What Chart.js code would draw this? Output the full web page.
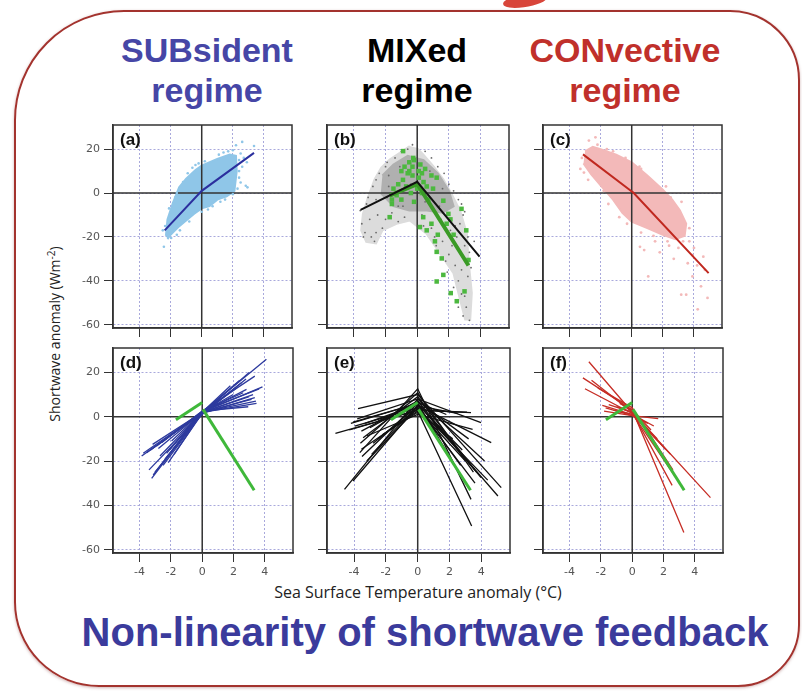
<!DOCTYPE html>
<html>
<head>
<meta charset="utf-8">
<script src="https://cdn.jsdelivr.net/npm/chart.js@4.4.0/dist/chart.umd.min.js"></script>
<style>
body{margin:0;background:#fff;width:802px;height:691px;overflow:hidden;position:relative;font-family:"Liberation Sans",Arial,sans-serif}
.frame{position:absolute;left:14px;top:10px;width:782px;height:673px;border:2px solid #a3332e;border-radius:110px 70px 62px 85px;box-shadow:0 1px 3px rgba(120,40,40,.35)}
.blob{position:absolute;left:503px;top:-5px;width:44px;height:12px;background:#d8453a;border-radius:50% 40% 60% 50%;transform:rotate(-8deg)}
.head{position:absolute;top:30px;width:260px;font-weight:bold;font-size:34px;line-height:40px;text-align:center}
.ytitle{position:absolute;left:54px;top:334px;transform:translate(-50%,-50%) rotate(-90deg);font-family:"Open Sans";font-size:14px;color:#222;white-space:nowrap}
.xtitle{position:absolute;left:418px;top:592px;transform:translate(-50%,-50%);font-family:"Open Sans";font-size:16px;color:#222;white-space:nowrap}
.foot{position:absolute;left:425px;top:610px;transform:translateX(-50%);font-weight:bold;font-size:40px;color:#3b3b9c;white-space:nowrap}
</style>
</head>
<body>
<div class="frame"></div>
<div class="blob"></div>
<div class="head" style="left:77px;color:#4646a6">SUBsident<br>regime</div>
<div class="head" style="left:287px;color:#000">MIXed<br>regime</div>
<div class="head" style="left:495px;color:#c0302b">CONvective<br>regime</div>
<div class="ytitle">Shortwave anomaly (Wm<sup style="font-size:10px">-2</sup>)</div>
<div class="xtitle">Sea Surface Temperature anomaly (°C)</div>
<div class="foot">Non-linearity of shortwave feedback</div>

<script>
// axis ticks
const xTicks = [-4, -2, 0, 2, 4];
const yTicks = [20, 0, -20, -40, -60];
const xMin = -5.7, xMax = 5.8, yMin = -61.5, yMax = 31;

// (a) SUBsident regime: cloud outline, loose points, fit
const aCloud = [[-2.3,-19.5],[-2.2,-12],[-1.85,-4.5],[-1.45,2.6],[-1,6.5],[-0.4,10.5],[0,12.5],[1,15.5],[1.8,17.5],[2.2,17],[2.25,10],[2.1,1],[1.6,-1.5],[1,-3],[0.5,-6],[0,-7],[-0.5,-9.5],[-1,-12.5],[-1.5,-15.5],[-2,-19],[-2.2,-21]];
const aDots = [[2.6,23.3],[2.2,21.8],[3.36,21.4],[2.83,3.3],[2.94,2.6],[2.5,4.8],[-2.43,-24.5],[-1.96,-20.5],[-2.17,-18.5],[2.4,15],[2.6,12],[2.5,18],[-1.6,-19],[-1.2,5],[-0.9,9],[0.2,14.5],[1.4,18.5],[2.0,19.5],[2.7,16],[-2.5,-17],[-2.0,-10],[1.5,-3],[2.4,7],[2.3,2],[-1.7,-2],[-0.4,12.8],[0.7,-6],[2.9,14],[-2.35,-15],[-1.4,-17],[-0.8,-13],[0,-8.5],[1.2,-4],[2.0,-0.5],[2.4,10],[1.1,17.5],[-0.2,13.5],[-0.6,11.5],[-1.6,0],[-2.1,-7],[0.4,-7.5],[1.7,19]];
const aFit = [[-2.38,-17],[0,1],[3.36,18.3]];

// (b) MIXed regime
const bOuter = [[-0.47,21.4],[-1.1,18.3],[-1.74,15.3],[-2.27,11.6],[-2.69,6.3],[-3.11,-2],[-3.43,-9.5],[-3.54,-17],[-3.22,-22.3],[-2.6,-23],[-2.2,-17],[-1.31,-14],[-0.47,-12.5],[0.59,-18.5],[1.44,-27.5],[2.29,-36.5],[2.71,-48.6],[3.03,-57.6],[3.35,-57.6],[3.45,-45.6],[3.24,-30.5],[3.14,-18.5],[2.71,-8],[2.18,-0.5],[1.65,6.3],[1.02,12.3],[0.38,17.6],[-0.04,20.6]];
const bCore = [[-2.2,8],[-1.5,13],[-0.6,17],[0.4,15],[1.3,9],[2.0,1],[2.3,-6],[1.6,-9],[0.6,-8],[-0.5,-8],[-1.5,-6],[-2.3,0]];
const bDots = [[-3.5,-14],[-3.3,-18],[-2.9,-20],[-2.7,-22],[-3.0,-12],[-2.5,-10],[-3.2,-5],[-2.8,3],[-2.4,9],[-1.9,14],[-1.0,19],[-0.3,22],[0.5,19],[1.3,12],[2.0,4],[2.6,-3],[2.9,-10],[3.2,-20],[3.3,-27],[2.6,-40],[2.8,-46],[3.1,-52],[3.3,-58],[2.4,-33],[1.8,-31],[1.2,-24],[0.4,-15],[3.6,-22],[3.4,-34],[2.9,-56],[-3.6,-8],[-2.2,-16],[-1.2,-13],[3.0,-8.5],[2.4,-15],[-2.0,-12],[-1.6,-9],[-0.8,-11],[0.9,-16],[1.6,-22],[2.0,-28],[2.2,-24],[2.5,-20],[2.7,-14],[3.0,-24],[2.3,-43],[2.6,-52],[3.0,-47],[3.2,-38],[-3.4,-20],[-2.6,-18],[-3.1,-2],[-2.6,6],[-2.0,12],[-1.4,16],[-0.6,20],[0.9,16],[1.7,9],[2.3,1],[2.8,-5],[1.1,-20],[1.5,-12],[0.3,-10],[-1.8,3],[-1.2,-6],[2.1,-17],[1.9,-36],[2.8,-35],[-1.8,8],[-1.1,12],[0.8,10],[1.6,2],[-2.6,-3],[-0.9,-6],[0.5,-4],[1.4,-6],[-1.9,-2],[-0.4,4]];
const bGreen = [[-0.8,12],[-0.5,14],[-0.2,15],[0.2,13],[0.5,11],[-0.6,9],[-0.3,8],[0.1,7],[0.4,5],[-0.9,6],[-1.2,4],[-0.7,3],[0,2],[0.3,0],[-0.4,0],[-1.3,-1],[-1.6,-3],[-1.0,-3],[0.6,3],[0.9,8],[1.0,2],[0.7,-3],[-0.2,-4],[-0.5,10],[0.1,10],[-1.0,10],[-0.3,12],[0.3,9],[-1.5,2],[-0.89,19.1],[-0.25,16],[1.23,7],[1.65,-3.5],[1.97,-9.5],[1.86,-14],[2.8,-7.2],[3.1,-17],[2.3,-19],[1.12,-22],[1.23,-26.8],[1.55,-29.8],[1.23,-40.3],[1.65,-37.3],[2.12,-45.6],[2.5,-49.3],[2.99,-44.8],[3.24,-30.5],[0.38,-11],[0.6,-17],[0.17,-15.5],[-1.74,-11],[-1.6,-5],[0.9,-14],[1.3,-19],[2.1,-12]];
const bFit = [[-3.58,-7.7],[0,5.1],[3.94,-29]];
const bGreenFit = [[-1.74,-1.2],[0,4.1],[3.24,-33]];

// (c) CONvective regime
const cCloud = [[-3.0,19],[-2.5,21],[-2,20],[-1,17.5],[0,14],[1,8],[2,1.5],[2.6,-3],[3.1,-8],[3.5,-14],[3.4,-19.5],[2.8,-21],[2,-19],[1,-16],[0,-13],[-0.6,-9],[-1.2,-3],[-2,3.5],[-2.6,8.5],[-3.1,13.5]];
const cDots = [[-2.75,23.9],[-2.33,25.4],[-3.07,9.3],[1.06,-38],[3.18,-46.3],[3.5,-46.3],[4.24,-53],[4.45,-42.5],[4.87,-47.8],[4.6,-29],[3.9,-28.3],[0.53,-24.5],[0.8,-26],[3.7,-22],[4.0,-25],[3.0,-25],[2.4,-24],[1.5,-22],[-3.2,16],[-2.2,22],[-1.2,19],[0.5,12],[4.2,-33],[3.6,-32],[2.7,-30],[4.7,-35],[3.9,-38],[1.8,-27],[-1.5,-5],[-0.8,-11],[2.5,-2],[1.5,3],[-3.3,11],[-2.8,6],[-1.8,1],[-0.3,-14],[0.6,-18],[1.4,-19.5],[2.3,-22],[3.3,-22],[3.7,-16],[3.2,-4],[2.2,3],[0.6,11],[-0.4,16],[-1.6,20]];
const cFit = [[-3.13,17.6],[-0.1,1.3],[0.1,0.2],[4.94,-36.5]];

// (d)-(f) per-model fits: [xLeft, yLeft, yAtZero, xRight, yRight]
const dLines = [[-3.87,-17.7,1.5,3.36,8.6],[-3.77,-16.5,2,3.43,7],[-3.55,-16.2,2,3.47,6],[-3.23,-27.8,2,4.1,25.9],[-3.13,-26.3,2.5,3.36,18.3],[-3.02,-25,1.5,2.51,15.3],[-3.17,-12.5,2,3.85,13.5],[-2.91,-13.2,2.5,3.64,12.6],[-2.8,-14.3,2,3.25,10],[-2.6,-11.7,2.5,2.94,4.5],[-2.38,-19.2,2,2.4,16.5],[-2.17,-20.7,1.5,2.19,13],[-2.28,-16.5,2,2.83,12.3],[-1.96,-11,2,1.98,10],[-2.7,-17.7,2,3.15,7.8],[-2.06,-14.7,2.5,2.62,10.8],[-3.3,-15,2,3.0,9],[-2.5,-22,1.5,3.0,20],[-3.4,-24,1,2.8,17],[-1.8,-17,2,1.8,14]];
const eLines = [[-5.17,-7.5,3,3.35,1.8],[-4.6,-32.8,8,3.98,-2.7],[-4.07,-29,5,4.62,-11.7],[-3.75,3.6,10,5.25,-32],[-4.07,-2.4,6,5.04,-35.8],[-3.96,-4.2,4,4.4,-28.6],[-3.54,-6.5,7,3.98,-27.5],[-3.64,-16.2,12.6,3.35,-37.3],[-3.54,-14.7,2.6,3.39,-49.3],[-3.43,-9.5,9,3.56,-23.8],[-3.2,-8.7,1,3.45,-5.7],[-2.8,-12,4.8,2.5,1.5],[-3.0,-5,7,3.2,-10],[-2.5,-10,3.5,3.0,-20],[-3.3,-3,5.5,2.8,-15],[-4.2,-3,6,3.7,-25],[-2.2,-8,2,2.2,-10],[-3.8,-1,8,4.2,-20],[-3.5,-18,6,3.0,-30],[-2.9,-17,5,2.7,-22],[-4.3,-6,3,3.1,2],[-3.6,-12,10.8,3.5,-25],[-2.5,-2,6.5,1.8,1],[-3.2,-20,4,3.6,-30]];
const fLines = [[-2.77,24.8,2,5.0,-36.5],[-3.15,17.5,3,3.3,-52.3],[-2.6,16.5,2,2.55,-31],[-3.02,12.6,1.5,2.87,-28.3],[-1.91,5.1,1,2.45,-17],[-1.7,4,0.5,1.66,-0.9],[-1.5,5.5,2,2.13,-14.7],[-1.2,3,1,1.38,-4.2],[-0.8,6,3,1.2,-6],[-1.8,2.5,0.5,1.0,-3],[-2.2,13,4,2.6,-24],[-1.0,4.5,2,1.6,-10]];
// reference (green) fit drawn in (d)-(f)
const refLeft = [[-1.68,-1.4],[0,6.4]];
const refRight = [[0.05,3.3],[3.32,-33.2]];

const pts = arr => arr.map(p => ({x: p[0], y: p[1]}));

function cloud(arr, color, zero) {
  return {data: pts(arr), showLine: true, fill: 'shape', backgroundColor: color, borderColor: color,
          borderWidth: 2, pointRadius: 0, zeroAfter: zero};
}
function dots(arr, color, r, style) {
  return {data: pts(arr), backgroundColor: color, borderWidth: 0, pointRadius: r, pointStyle: style || 'circle'};
}
function line(arr, color, w) {
  return {data: pts(arr), showLine: true, borderColor: color, borderWidth: w, pointRadius: 0, fill: false};
}
function fanLines(list, color) {
  return list.map(l => line([[l[0], l[1]], [0, l[2]], [l[3], l[4]]], color, 1.3));
}

const deco = {
  id: 'deco',
  drawZero(chart) {
    const {ctx, chartArea: a, scales: {x, y}} = chart;
    const x0 = x.getPixelForValue(0), y0 = y.getPixelForValue(0);
    ctx.save();
    ctx.strokeStyle = '#333'; ctx.lineWidth = 1.5;
    ctx.beginPath();
    ctx.moveTo(x0, a.top); ctx.lineTo(x0, a.bottom);
    ctx.moveTo(a.left, y0); ctx.lineTo(a.right, y0);
    ctx.stroke();
    ctx.restore();
  },
  beforeDatasetsDraw(chart) {
    if (!chart.data.datasets.some(d => d.zeroAfter)) this.drawZero(chart);
  },
  afterDatasetDraw(chart, args) {
    if (chart.data.datasets[args.index].zeroAfter) this.drawZero(chart);
  },
  afterDatasetsDraw(chart, args, opts) {
    const {ctx, chartArea: a} = chart;
    ctx.save();
    ctx.strokeStyle = '#333'; ctx.lineWidth = 1.5;
    ctx.strokeRect(a.left, a.top, a.right - a.left, a.bottom - a.top);
    ctx.fillStyle = '#111';
    ctx.font = 'bold 17px "Liberation Sans"';
    ctx.textBaseline = 'top';
    ctx.fillText(opts.text, a.left + 7, a.top + 7);
    ctx.restore();
  }
};

function axis(ticks, min, max, show, isX) {
  return {
    type: 'linear', min: min, max: max,
    afterBuildTicks: s => { s.ticks = ticks.map(v => ({value: v})); },
    afterFit: s => {
      if (isX) s.height = 30; else s.width = 45;
      s.paddingTop = s.paddingBottom = s.paddingLeft = s.paddingRight = 0;
    },
    ticks: {color: '#555', padding: 4, font: {family: 'DejaVu Sans', size: 11}, autoSkip: false, maxRotation: 0,
            callback: v => show ? String(v) : ''},
    grid: {color: '#a9a9dc', lineWidth: 1, tickLength: 9, tickColor: '#333', tickWidth: 1},
    border: {display: true, color: '#333', width: 1.5, dash: [2, 2]}
  };
}

// plot-area boxes in page pixels [left, top, right, bottom]
const boxes = {
  a: [113, 123, 293, 328], b: [327, 123, 510, 328], c: [543, 123, 723, 328],
  d: [113, 348, 293, 553], e: [327, 348, 510, 553], f: [543, 348, 723, 553]
};

function panel(key, sets, showX, showY) {
  const [L, T, R, B] = boxes[key];
  const w = R - L + 48, h = B - T + 32;
  const cv = document.createElement('canvas');
  cv.width = w; cv.height = h;
  cv.style.cssText = 'position:absolute;left:' + (L - 45) + 'px;top:' + (T - 2) + 'px;width:' + w + 'px;height:' + h + 'px';
  document.body.appendChild(cv);
  new Chart(cv, {
    type: 'scatter',
    // first dataset is drawn on top, so reverse the bottom-to-top list
    data: {datasets: sets.slice().reverse()},
    options: {
      responsive: false, animation: false, events: [],
      layout: {padding: {top: 2, right: 3, left: 0, bottom: 0}},
      plugins: {legend: {display: false}, tooltip: {enabled: false}, deco: {text: '(' + key + ')'}},
      scales: {x: axis(xTicks, xMin, xMax, showX, true), y: axis(yTicks, yMin, yMax, showY, false)}
    },
    plugins: [deco]
  });
}

panel('a', [cloud(aCloud, '#8fc6e8', true), dots(aDots, '#8fc6e8', 1.3), line(aFit, '#2b2f9e', 2)], false, true);
panel('b', [cloud(bOuter, '#dcdcdc', false), cloud(bCore, '#b0b0b0', true), dots(bDots, '#6a6a6a', 0.9),
            dots(bGreen, '#4cb83f', 3.2, 'rect'), line(bGreenFit, '#3a9a26', 4), line(bFit, '#111', 2)], false, false);
panel('c', [cloud(cCloud, '#f3b9b9', true), dots(cDots, '#f3b9b9', 1.4), line(cFit, '#c0281f', 2)], false, false);
panel('d', fanLines(dLines, '#2d3a9e').concat([line(refLeft, '#3fb83a', 3), line(refRight, '#3fb83a', 3)]), true, true);
panel('e', fanLines(eLines, '#111').concat([line(refLeft, '#3fb83a', 3), line(refRight, '#3fb83a', 3)]), true, false);
panel('f', fanLines(fLines, '#c62d25').concat([line(refLeft, '#3fb83a', 3), line(refRight, '#3fb83a', 3)]), true, false);
</script>
</body>
</html>
